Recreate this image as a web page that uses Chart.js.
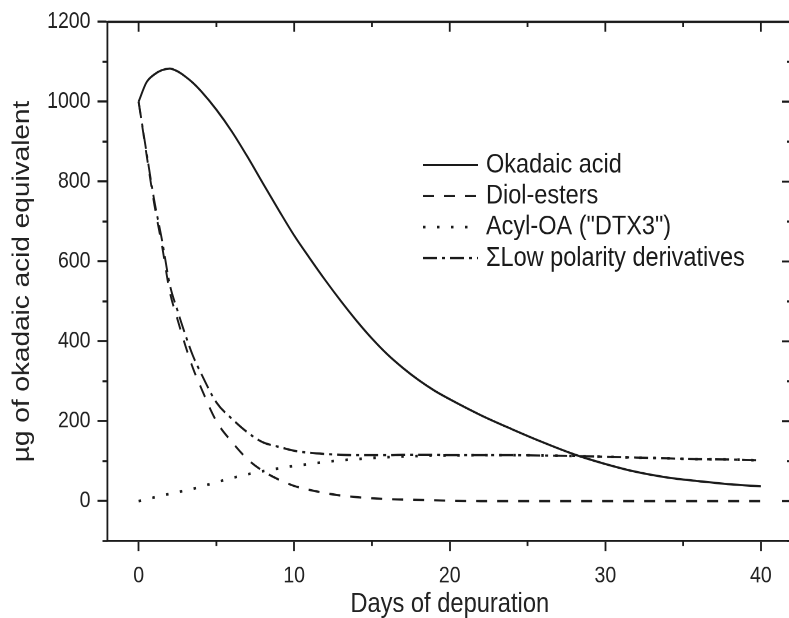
<!DOCTYPE html>
<html><head><meta charset="utf-8">
<script src="https://cdn.jsdelivr.net/npm/chart.js@4"></script>
<style>
html,body{margin:0;padding:0;background:#fff;overflow:hidden;width:789px;height:618px}
#wrap{position:absolute;left:0;top:0;width:800px;height:530px;transform-origin:0 0;transform:scale(1,1.166)}
</style></head><body>
<div id="wrap"><canvas id="c" width="800" height="530"></canvas></div>
<script>
const days = [0,0.5,1,1.5,2,2.5,3,3.5,4,5,6,7,8,9,10,11,12,13,14,15,16,17,18,19,20,22,24,26,28,30,32,34,36,38,40];
const okadaicAcid = [1000,1048,1068,1079,1083,1076,1063,1047,1027,980,925,862,795,729,665,608,553,501,452,407,367,333,303,277,255,215,180,147,117,93,73,59,50,42,37];
const diolEsters = [1000,870,745,640,525,455,390,332,285,200,148,105,75,54,38,28,20,14,10,7,5,4,3,2,1,0,0,0,0,0,0,0,0,0,0];
const acylOA = [0,5,9,14,18,22,27,31,36,47,58,67,75,82,88,93,98,102,105,108,110,112,113,114,114,115,115,114,113,111,109,107,105,104,102];
const lowPolaritySum = [1000,875,754,654,543,477,417,363,321,247,206,172,147,136,126,121,118,116,115,115,115,116,116,116,115,115,115,114,113,111,109,107,105,104,102];
const xTicks = [0,10,20,30,40];
const yTicks = [0,200,400,600,800,1000,1200];
const seriesNames = ['Okadaic acid','Diol-esters','Acyl-OA ("DTX3")','\u03A3Low polarity derivatives'];
const xTitle = 'Days of depuration';
const yTitle = '\u00B5g of okadaic acid equivalent';

const INK = '#1a1a1a';
const FONT = '"Liberation Sans", Arial, sans-serif';
const pts = arr => days.map((d,i)=>({x:d,y:arr[i]}));
const styles = [
  {borderDash:[], width:1.9},
  {borderDash:[11,10], width:1.9},
  {borderDash:[2.5,11.5], width:2.3},
  {borderDash:[14,5,3,5], width:1.9}
];
const seriesData = [okadaicAcid, diolEsters, acylOA, lowPolaritySum];
const datasets = seriesData.map((arr,i)=>({
  label: seriesNames[i],
  data: pts(arr),
  borderColor: INK,
  borderWidth: styles[i].width,
  borderDash: styles[i].borderDash,
  pointRadius: 0,
  fill: false,
  cubicInterpolationMode: 'monotone'
}));

const mids = t => t.slice(1).map((v,i)=>(v+t[i])/2);

const framePlugin = {
  id:'frame',
  afterDraw(chart){
    const {ctx, chartArea:a, scales:{x,y}} = chart;
    ctx.save();
    ctx.strokeStyle = INK; ctx.lineWidth = 1.8; ctx.setLineDash([]);
    ctx.beginPath();
    ctx.moveTo(a.left, a.top); ctx.lineTo(a.right, a.top);
    ctx.moveTo(a.right, a.top); ctx.lineTo(a.right, a.bottom);
    xTicks.forEach(v=>{const p=x.getPixelForValue(v); ctx.moveTo(p,a.top); ctx.lineTo(p,a.top+8.6);});
    mids(xTicks).forEach(v=>{const p=x.getPixelForValue(v); ctx.moveTo(p,a.top); ctx.lineTo(p,a.top+4.3);});
    mids(xTicks).forEach(v=>{const p=x.getPixelForValue(v); ctx.moveTo(p,a.bottom); ctx.lineTo(p,a.bottom+4.3);});
    yTicks.forEach(v=>{const p=y.getPixelForValue(v); ctx.moveTo(a.right,p); ctx.lineTo(a.right-10,p);});
    const ym = mids(yTicks).concat([-100]);
    ym.forEach(v=>{const p=y.getPixelForValue(v); ctx.moveTo(a.right,p); ctx.lineTo(a.right-5,p);});
    ym.forEach(v=>{const p=y.getPixelForValue(v); ctx.moveTo(a.left,p); ctx.lineTo(a.left-5,p);});
    ctx.stroke();

    const rows = [141.5,168.1,194.7,221.3];
    chart.data.datasets.forEach((ds,i)=>{
      const yy = rows[i];
      ctx.beginPath();
      ctx.lineWidth = ds.borderWidth;
      ctx.setLineDash(ds.borderDash);
      ctx.moveTo(423, yy); ctx.lineTo(478, yy);
      ctx.stroke();
      ctx.setLineDash([]);
      ctx.fillStyle = INK;
      ctx.font = '23.5px ' + FONT;
      ctx.textBaseline = 'middle';
      ctx.textAlign = 'left';
      ctx.fillText(ds.label, 486, yy);
    });
    ctx.restore();
  }
};

new Chart(document.getElementById('c'), {
  type: 'line',
  data: {datasets},
  plugins: [framePlugin],
  options: {
    responsive: false,
    devicePixelRatio: 2,
    animation: false,
    layout: {padding: {top:17, right:8, left:0, bottom:0}},
    plugins: {legend:{display:false}, tooltip:{enabled:false}},
    scales: {
      x: {
        type: 'linear', min: -2, max: 42,
        afterBuildTicks: s => { s.ticks = xTicks.map(v=>({value:v})); },
        afterFit: s => { s.height = 66; },
        grid: {display:true, drawOnChartArea:false, tickLength:8.6, tickWidth:1.8, tickColor:INK},
        border: {display:true, color:INK, width:1.8},
        ticks: {color:'#222', font:{family:FONT, size:19.5}, padding:10, maxRotation:0, callback: v => String(v)},
        title: {display:true, text:xTitle, color:'#222', font:{family:FONT, size:23.7}, padding:{top:0,bottom:-2.5}}
      },
      y: {
        type: 'linear', min: -100, max: 1200,
        afterBuildTicks: s => { s.ticks = yTicks.map(v=>({value:v})); },
        afterFit: s => { s.width = 107.5; },
        grid: {display:true, drawOnChartArea:false, tickLength:10, tickWidth:1.8, tickColor:INK},
        border: {display:true, color:INK, width:1.8},
        ticks: {color:'#222', font:{family:FONT, size:19.5}, padding:7, callback: v => String(v)},
        title: {display:true, text:yTitle, color:'#222', font:{family:FONT, size:24}, padding:{top:8,bottom:0}}
      }
    }
  }
});
</script>
</body></html>
